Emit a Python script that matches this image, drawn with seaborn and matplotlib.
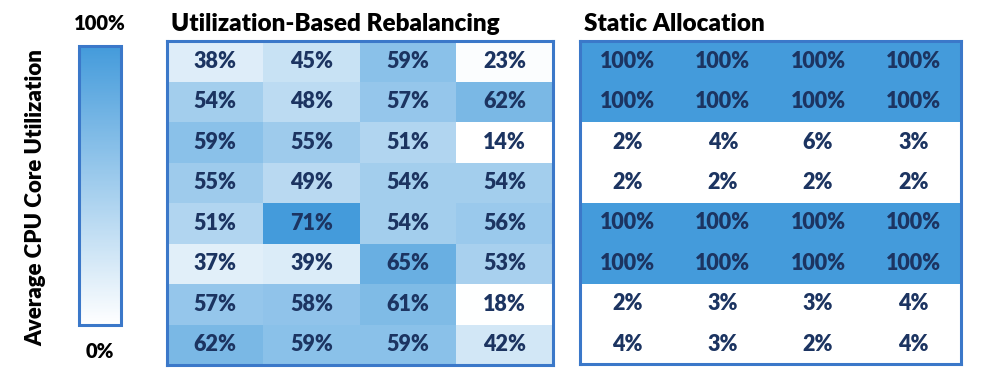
import numpy as np
import pandas as pd
import seaborn as sns
import matplotlib.pyplot as plt
from matplotlib.colors import LinearSegmentedColormap, PowerNorm, Normalize
from matplotlib.cm import ScalarMappable

# datos de utilizacion (%) por celda, 8 filas x 4 columnas
rebalanceo = [
    [38, 45, 59, 23],
    [54, 48, 57, 62],
    [59, 55, 51, 14],
    [55, 49, 54, 54],
    [51, 71, 54, 56],
    [37, 39, 65, 53],
    [57, 58, 61, 18],
    [62, 59, 59, 42],
]
estatico = [
    [100, 100, 100, 100],
    [100, 100, 100, 100],
    [2, 4, 6, 3],
    [2, 2, 2, 2],
    [100, 100, 100, 100],
    [100, 100, 100, 100],
    [2, 3, 3, 4],
    [4, 3, 2, 4],
]
titulos = ['Utilization-Based Rebalancing', 'Static Allocation']

sns.set_theme(style='white')
plt.rcParams['font.family'] = ['Lato', 'DejaVu Sans']

azul = '#449BDB'
borde = '#3B78C9'
texto = '#1C3461'
cmap = LinearSegmentedColormap.from_list('blancoazul', ['#FFFFFF', azul])

fig = plt.figure(figsize=(9.82, 3.88), dpi=100)
ax1 = fig.add_axes([0.170, 0.059, 0.393, 0.835])
ax2 = fig.add_axes([0.5906, 0.061, 0.388, 0.833])
cax = fig.add_axes([0.0804, 0.162, 0.0428, 0.719])

for ax, datos, titulo in zip([ax1, ax2], [rebalanceo, estatico], titulos):
    df = pd.DataFrame(datos)
    etiquetas = df.map(lambda v: f'{v}%')
    # escala propia de cada panel (min -> blanco, max -> azul)
    norma = PowerNorm(gamma=2.0, vmin=df.values.min(), vmax=df.values.max())
    sns.heatmap(df, ax=ax, cmap=cmap, norm=norma, annot=etiquetas, fmt='', cbar=False,
                annot_kws={'color': texto, 'fontsize': 15.5, 'fontweight': 'heavy'},
                xticklabels=False, yticklabels=False)
    for s in ax.spines.values():
        s.set_visible(True)
        s.set_color(borde)
        s.set_linewidth(2.2)
    ax.set_title(titulo, loc='left', fontsize=17.5, fontweight='heavy', color='black', pad=7, x=0.01)

# barra de color
cb = fig.colorbar(ScalarMappable(norm=Normalize(0, 100), cmap=cmap), cax=cax)
cb.outline.set_edgecolor(borde)
cb.outline.set_linewidth(2.2)
cb.set_ticks([])
fig.text(0.1018, 0.94, '100%', ha='center', va='center', fontsize=14.5, fontweight='heavy', color='black')
fig.text(0.1018, 0.095, '0%', ha='center', va='center', fontsize=14.5, fontweight='heavy', color='black')
fig.text(0.036, 0.49, 'Average CPU Core Utilization', rotation=90, ha='center', va='center',
         fontsize=16, fontweight='heavy', color='black')

plt.savefig('out.png', dpi=100)
